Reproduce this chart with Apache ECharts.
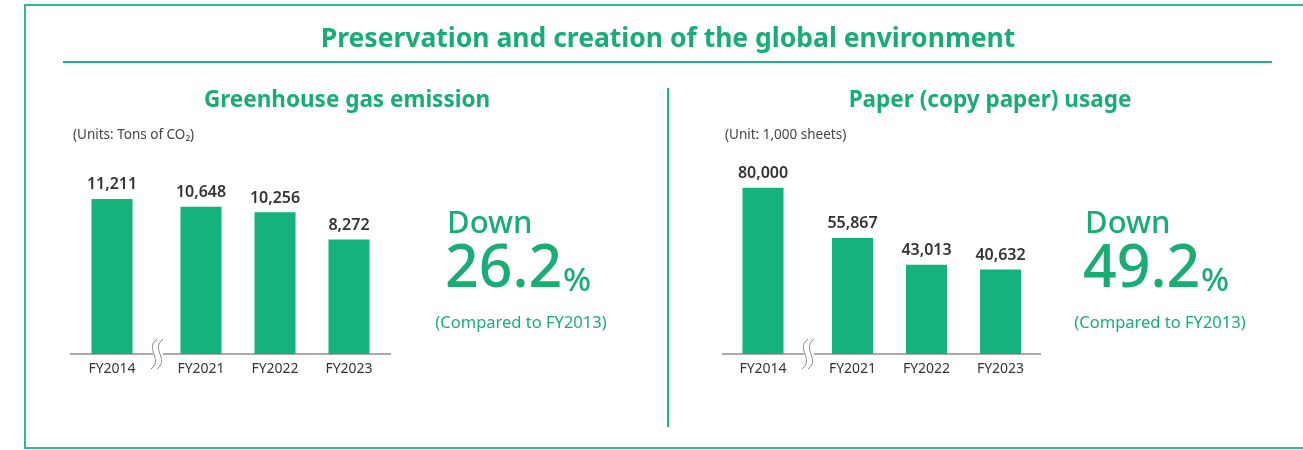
<!DOCTYPE html>
<html><head><meta charset="utf-8">
<script src="https://cdn.jsdelivr.net/npm/echarts@6/dist/echarts.min.js"></script>
<style>html,body{margin:0;padding:0;background:#fff}#c{width:1303px;height:450px}</style>
</head><body><div id="c"></div>
<script>
// ---- data ----
const mainTitle = 'Preservation and creation of the global environment';
const ghgTitle = 'Greenhouse gas emission';
const ghgUnit = '(Units: Tons of CO₂)';
const ghgCategories = ['FY2014', 'FY2021', 'FY2022', 'FY2023'];
const ghgValues = [11211, 10648, 10256, 8272];
const ghgReduction = '26.2';
const paperTitle = 'Paper (copy paper) usage';
const paperUnit = '(Unit: 1,000 sheets)';
const paperCategories = ['FY2014', 'FY2021', 'FY2022', 'FY2023'];
const paperValues = [80000, 55867, 43013, 40632];
const paperReduction = '49.2';
const compareNote = '(Compared to FY2013)';

// ---- style ----
const GREEN = '#16b27b';
const TXT_GREEN = '#19ad74';
const FRAME = '#2fbb88';
const DARK = '#333333';
const FONT = '"Noto Sans", "DejaVu Sans", sans-serif';

const chart = echarts.init(document.getElementById('c'), null, {renderer: 'canvas'});

const baseY = 354;
const grids = [
  {left: 75, width: 74, top: 188, height: 166},
  {left: 164, width: 222, top: 188, height: 166},
  {left: 726, width: 74, top: 167, height: 187},
  {left: 815.5, width: 222, top: 167, height: 187}
];
const yMax = [12000, 12000, 90000, 90000];
const catSets = [ghgCategories.slice(0, 1), ghgCategories.slice(1), paperCategories.slice(0, 1), paperCategories.slice(1)];
const valSets = [ghgValues.slice(0, 1), ghgValues.slice(1), paperValues.slice(0, 1), paperValues.slice(1)];

const xAxis = catSets.map((cats, i) => ({
  type: 'category', gridIndex: i, data: cats,
  axisLine: {show: false}, axisTick: {show: false},
  axisLabel: {color: DARK, fontSize: 14, fontFamily: FONT, margin: 8}
}));
const yAxis = catSets.map((c, i) => ({
  type: 'value', gridIndex: i, min: 0, max: yMax[i], show: false, splitLine: {show: false}
}));
const series = valSets.map((vals, i) => ({
  type: 'bar', xAxisIndex: i, yAxisIndex: i, data: vals, barWidth: 41,
  itemStyle: {color: GREEN},
  label: {show: true, position: 'top', distance: 6, color: DARK, fontSize: 16, fontWeight: 600, fontFamily: FONT,
    formatter: p => p.value.toLocaleString('en-US')},
  silent: true, animation: false
}));

function breakMark(cx, cy) {
  const mk = dx => ({type: 'bezierCurve', z: 20, shape: {x1: cx + 3 + dx, y1: cy - 15, cpx1: cx - 10 + dx, cpy1: cy - 5, cpx2: cx + 10 + dx, cpy2: cy + 5, x2: cx - 3 + dx, y2: cy + 15},
    style: {stroke: '#8a8a8a', lineWidth: 1, fill: null}});
  return [
    {type: 'rect', z: 19, shape: {x: cx - 3, y: cy - 2, width: 10, height: 4}, style: {fill: '#fff'}},
    mk(-2), mk(4)
  ];
}

function bigBlock(x, num) {
  return [
    {type: 'text', x: x, y: 224, style: {text: 'Down', fill: TXT_GREEN, font: '500 31px ' + FONT, textVerticalAlign: 'middle'}},
    {type: 'text', x: x - 2, y: 270, style: {text: num, fill: TXT_GREEN, font: '500 59px ' + FONT, textVerticalAlign: 'middle'}},
  ];
}

const graphic = [
  {type: 'rect', shape: {x: 25, y: 5, width: 1300, height: 443}, style: {fill: null, stroke: FRAME, lineWidth: 2}},
  {type: 'text', x: 668, y: 39, style: {text: mainTitle, fill: TXT_GREEN, font: 'bold 26.5px ' + FONT, textAlign: 'center', textVerticalAlign: 'middle'}},
  {type: 'line', shape: {x1: 63, y1: 62, x2: 1272, y2: 62}, style: {stroke: '#22b47e', lineWidth: 2}},
  {type: 'line', shape: {x1: 668, y1: 88, x2: 668, y2: 427}, style: {stroke: '#22b47e', lineWidth: 2}},
  {type: 'text', x: 347, y: 101, style: {text: ghgTitle, fill: TXT_GREEN, font: 'bold 22.5px ' + FONT, textAlign: 'center', textVerticalAlign: 'middle'}},
  {type: 'text', x: 990, y: 101, style: {text: paperTitle, fill: TXT_GREEN, font: 'bold 22.5px ' + FONT, textAlign: 'center', textVerticalAlign: 'middle'}},
  {type: 'text', x: 73, y: 135, style: {text: ghgUnit, fill: '#444', font: '13.5px ' + FONT, textVerticalAlign: 'middle'}},
  {type: 'text', x: 725, y: 135, style: {text: paperUnit, fill: '#444', font: '13.5px ' + FONT, textVerticalAlign: 'middle'}},
  {type: 'line', shape: {x1: 70, y1: baseY, x2: 391, y2: baseY}, style: {stroke: '#555', lineWidth: 1}},
  {type: 'line', shape: {x1: 722, y1: baseY, x2: 1041, y2: baseY}, style: {stroke: '#555', lineWidth: 1}},
  ...breakMark(156, baseY), ...breakMark(807, baseY),
  ...bigBlock(447, ghgReduction), ...bigBlock(1085, paperReduction),
  {type: 'text', x: 563, y: 282, style: {text: '%', fill: TXT_GREEN, font: '500 33px ' + FONT, textVerticalAlign: 'middle'}},
  {type: 'text', x: 1201, y: 282, style: {text: '%', fill: TXT_GREEN, font: '500 33px ' + FONT, textVerticalAlign: 'middle'}},
  {type: 'text', x: 521, y: 323, style: {text: compareNote, fill: TXT_GREEN, font: '16.5px ' + FONT, textAlign: 'center', textVerticalAlign: 'middle'}},
  {type: 'text', x: 1160, y: 323, style: {text: compareNote, fill: TXT_GREEN, font: '16.5px ' + FONT, textAlign: 'center', textVerticalAlign: 'middle'}}
];

chart.setOption({
  animation: false,
  backgroundColor: '#fff',
  grid: grids,
  xAxis: xAxis,
  yAxis: yAxis,
  series: series,
  graphic: {elements: graphic}
});
</script>
</body></html>
